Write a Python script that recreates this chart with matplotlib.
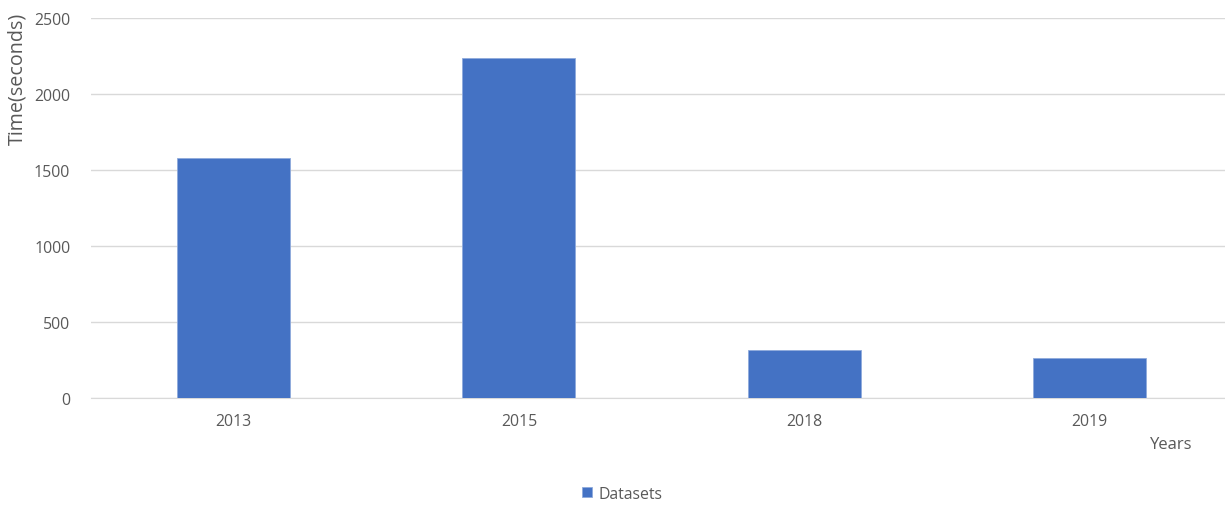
import matplotlib
matplotlib.use('Agg')
import matplotlib.pyplot as plt
import numpy as np

years = ['2013', '2015', '2018', '2019']
times = [1579, 2237, 316, 261]
yticks = [0, 500, 1000, 1500, 2000, 2500]

plt.rcParams['font.family'] = ['Open Sans', 'DejaVu Sans']
txt = '#595959'

fig = plt.figure(figsize=(12.25, 5.06), dpi=100)
ax = fig.add_axes([0.0743, 0.2115, 0.9314, 0.7515])

x = np.arange(len(years))
ax.bar(x, times, width=0.397, color='#4472C4', edgecolor='#8FAADC', linewidth=0.6,
       zorder=3, label='Datasets')

ax.set_xlim(-0.5, 3.5)
ax.set_ylim(0, 2500)
ax.set_yticks(yticks)
ax.set_xticks(x)
ax.set_xticklabels(years)
ax.yaxis.grid(True, color='#D9D9D9', linewidth=1, zorder=0)
for s in ['top', 'right', 'left']:
    ax.spines[s].set_visible(False)
ax.spines['bottom'].set_color('#D9D9D9')
ax.tick_params(length=0, labelsize=11.4, labelcolor=txt)
ax.tick_params(axis='x', pad=11)
ax.tick_params(axis='y', pad=15)

fig.text(0.0143, 0.845, 'Time(seconds)', rotation=90, ha='center', va='center',
         fontsize=14.2, color=txt)
fig.text(0.956, 0.12, 'Years', ha='center', va='center', fontsize=12, color=txt)

fig.legend(loc='center', bbox_to_anchor=(0.508, 0.022), frameon=False, fontsize=11.4,
           labelcolor=txt, handlelength=0.6, handleheight=0.6, handletextpad=0.4)

fig.savefig('out.png', dpi=100)
